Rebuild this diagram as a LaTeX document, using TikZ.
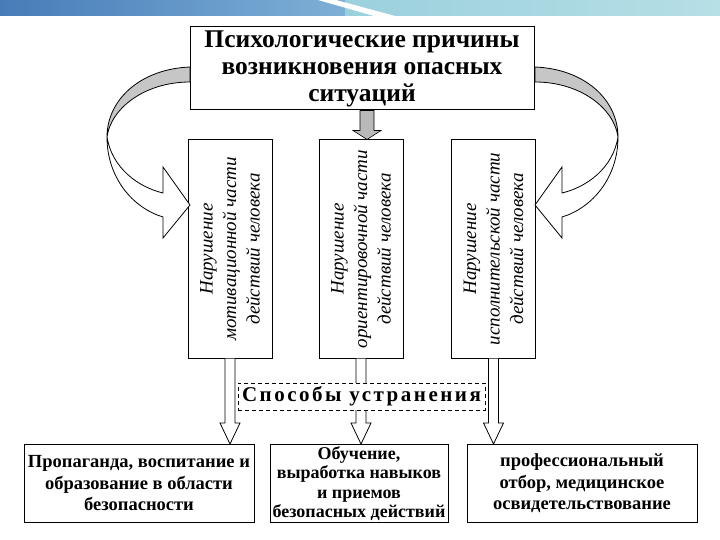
\documentclass[tikz,border=0pt]{standalone}
\usepackage{fontspec}
\setmainfont{Liberation Serif}
\newfontfamily\spacedfont{Liberation Serif}[LetterSpace=12]
\usetikzlibrary{calc}
\definecolor{bandL}{RGB}{70,124,184}
\definecolor{bandM}{RGB}{126,176,214}
\definecolor{bandR}{RGB}{158,212,222}
\colorlet{ribbon}{gray!45}
\newcommand{\hollowarrow}[2]{%
  \draw[fill=white, line width=0.8pt] let \p1=(#1), \p2=(#2) in
    (\x1-5pt,\y1) -- (\x1-5pt,\y2+21pt) -- (\x1-10pt,\y2+21pt) -- (\x1,\y2)
    -- (\x1+10pt,\y2+21pt) -- (\x1+5pt,\y2+21pt) -- (\x1+5pt,\y1);}

\begin{document}
\begin{tikzpicture}[x=1pt, y=-1pt, line width=1pt,
  box/.style={draw=black, fill=white, align=center, inner sep=1pt},
  vbox/.style={box, rotate=90, minimum width=218pt, minimum height=84pt,
    font=\fontsize{19}{23.5}\selectfont\itshape},
  waybox/.style={box, minimum height=78pt,
    font=\fontsize{18.5}{21.5}\selectfont\bfseries}]
\useasboundingbox (0,0) rectangle (720,540);
% slide band
\shade[left color=bandL, right color=bandM] (0,0) rectangle (345,16);
\shade[left color=bandR!90!bandM, right color=bandR!75!white] (345,0) rectangle (720,16);
\fill[white] (318,0) -- (336,0) -- (395,16) -- (374,16) -- cycle;

\node[box, minimum width=344pt, minimum height=83pt,
  font=\fontsize{25.5}{27}\selectfont\bfseries] (psy) at (362,68.5)
  {Психологические причины\\возникновения опасных\\ситуаций};

\node[vbox] (v1) at (230,249) {Нарушение\\мотивационной части\\действий человека};
\node[vbox] (v2) at (361,249) {Нарушение\\ориентировочной части\\действий человека};
\node[vbox] (v3) at (493.5,249) {Нарушение\\исполнительской части\\действий человека};

\node[waybox, minimum width=230pt] (b1) at (139,483.5)
  {Пропаганда, воспитание и\\образование в области\\безопасности};
\node[waybox, minimum width=178pt, font=\fontsize{18}{19.5}\selectfont\bfseries]
  (b2) at (359,483.5) {Обучение,\\выработка навыков\\и приемов\\безопасных действий};
\node[waybox, minimum width=230pt] (b3) at (582,483.5)
  {профессиональный\\отбор, медицинское\\освидетельствование};

% twisted arrows
\coordinate (ltip) at (190,205);
\draw[fill=ribbon, line width=0.8pt] (190,67) .. controls (140,69) and (107,100) .. (107,137)
  .. controls (111,108) and (145,82) .. (190,82) -- cycle;
\draw[fill=white, line width=0.8pt] (107,137) .. controls (107,178) and (133,208) .. (163,217)
  -- (163,238) -- (ltip) -- (163,167) -- (163,193)
  .. controls (138,187) and (112,168) .. (107,137) -- cycle;
\begin{scope}[xshift=725pt, xscale=-1]
\coordinate (rtip) at (190,205);
\draw[fill=ribbon, line width=0.8pt] (190,67) .. controls (140,69) and (107,100) .. (107,137)
  .. controls (111,108) and (145,82) .. (190,82) -- cycle;
\draw[fill=white, line width=0.8pt] (107,137) .. controls (107,178) and (133,208) .. (163,217)
  -- (163,238) -- (rtip) -- (163,167) -- (163,193)
  .. controls (138,187) and (112,168) .. (107,137) -- cycle;
\end{scope}

% down arrow
\draw[fill=gray!55, line width=0.6pt] let \p1=(psy.south), \p2=(v2.east) in
  (\x1-2pt,\y1) -- (\x1-2pt,\y2+9pt) -- (\x1-9pt,\y2+9pt) -- (\x1+5pt,\y2)
  -- (\x1+19pt,\y2+9pt) -- (\x1+12pt,\y2+9pt) -- (\x1+12pt,\y1) -- cycle;

\hollowarrow{v1.west}{v1.west |- b1.north}
\hollowarrow{v2.west}{v2.west |- b2.north}
\hollowarrow{v3.west}{v3.west |- b3.north}

\node[box, dash pattern=on 4pt off 3pt, minimum width=247pt, minimum height=27pt,
  font=\fontsize{21}{24}\selectfont\spacedfont\bfseries] (ways) at (361.5,396.5)
  {Способы устранения};
\end{tikzpicture}
\end{document}
